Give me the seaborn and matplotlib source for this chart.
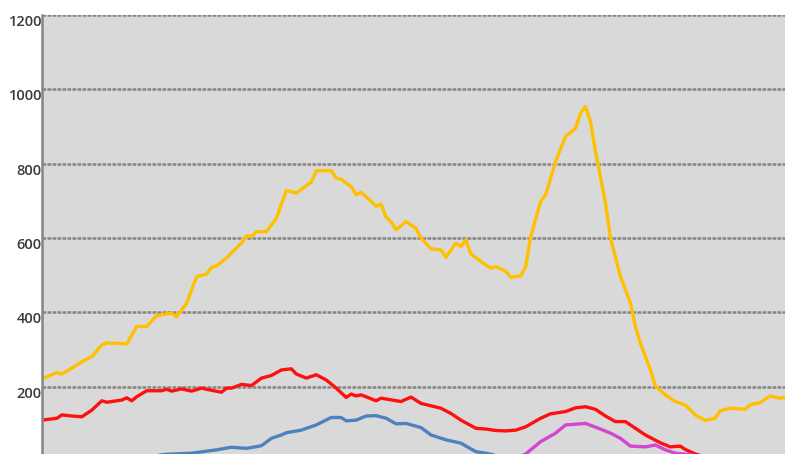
import pandas as pd
import numpy as np
import matplotlib
matplotlib.use("Agg")
import matplotlib.pyplot as plt
import seaborn as sns

# values (x = day index, y = count)
gold_days = [0, 3, 4, 6, 8, 10, 12, 13, 17, 19, 21, 23, 26, 27, 29, 31, 33, 34, 35, 37,
             39, 40, 41, 42, 43, 45, 47, 49, 51, 52, 54, 55, 58, 59, 60, 62, 63, 64, 67, 68,
             69, 70, 71, 73, 75, 76, 78, 80, 81, 83, 84, 85, 86, 88, 90, 91, 93, 94, 96, 97,
             98, 100, 101, 103, 105, 107, 108, 109, 110, 111, 113, 114, 116, 118, 119, 120, 122, 123, 125, 127,
             129, 131, 133, 135, 136, 138, 141, 142, 144, 146, 148, 149]
gold_vals = [221, 238, 234, 250, 267, 281, 312, 318, 315, 362, 362, 391, 398, 388, 424, 496, 503, 521, 525, 546,
             573, 586, 606, 604, 617, 617, 653, 728, 721, 731, 750, 781, 781, 761, 758, 738, 716, 723, 686, 691,
             656, 644, 622, 644, 626, 600, 571, 568, 548, 586, 577, 595, 557, 537, 519, 523, 511, 494, 498, 523,
             604, 698, 716, 806, 873, 895, 936, 954, 913, 833, 694, 600, 496, 425, 362, 317, 245, 202, 178, 160,
             151, 124, 109, 115, 135, 142, 139, 151, 157, 175, 169, 171]

red_days = [0, 3, 4, 6, 8, 10, 12, 13, 16, 17, 18, 19, 21, 24, 25, 26, 28, 30, 32, 33,
            36, 37, 38, 40, 42, 44, 46, 48, 50, 51, 53, 55, 57, 59, 61, 62, 63, 64, 67, 68,
            72, 74, 76, 80, 82, 84, 87, 89, 91, 93, 95, 97, 100, 102, 105, 107, 109, 111, 113, 115,
            117, 118, 121, 124, 126, 128, 129, 131, 134, 138, 149]
red_vals = [110, 115, 124, 121, 119, 137, 162, 158, 164, 170, 162, 173, 189, 189, 193, 188, 194, 188, 196, 193,
            185, 196, 196, 206, 203, 223, 230, 245, 248, 234, 223, 232, 218, 196, 171, 180, 175, 178, 162, 169,
            160, 172, 155, 142, 128, 110, 88, 86, 82, 81, 83, 92, 115, 127, 133, 143, 146, 139, 121, 106,
            106, 97, 70, 49, 38, 40, 31, 19, 8, 3, 2]

blue_days = [0, 8, 16, 22, 25, 30, 35, 38, 41, 44, 46, 48, 49, 52, 55, 58, 60, 61, 63, 65,
             67, 69, 71, 73, 76, 78, 81, 84, 87, 89, 92, 98, 112, 132, 149]
blue_vals = [8, 10, 12, 14, 18, 21, 30, 37, 34, 41, 61, 70, 76, 83, 97, 117, 117, 108, 110, 121,
             122, 115, 100, 101, 90, 70, 57, 48, 25, 21, 12, 6, 4, 5, 5]

pink_days = [90, 95, 97, 100, 103, 105, 108, 109, 111, 114, 116, 118, 121, 123, 125, 127, 132, 140, 149]
pink_vals = [2, 8, 19, 52, 75, 97, 100, 101, 91, 75, 61, 40, 38, 43, 30, 21, 14, 14, 15]

y_ticks = [200, 400, 600, 800, 1000, 1200]

frames = []
for name, d, v in [("gold", gold_days, gold_vals), ("red", red_days, red_vals),
                   ("blue", blue_days, blue_vals), ("pink", pink_days, pink_vals)]:
    frames.append(pd.DataFrame({"day": d, "value": v, "series": name}))
df = pd.concat(frames, ignore_index=True)

palette = {"gold": "#FFC000", "red": "#FF1010", "blue": "#4F81BD", "pink": "#D446CF"}

sns.set_style("white")
plt.rcParams["font.family"] = ["Open Sans", "DejaVu Sans"]

fig = plt.figure(figsize=(7.85, 4.54), dpi=100)
ax = fig.add_axes([0.0535, -0.0154, 0.9465, 0.9824])
ax.set_facecolor("#D9D9D9")

sns.lineplot(data=df, x="day", y="value", hue="series", palette=palette,
             hue_order=["gold", "red", "blue", "pink"], linewidth=2.4,
             legend=False, ax=ax)

ax.set_xlim(0, 149)
ax.set_ylim(0, 1200)
ax.set_yticks(y_ticks)
ax.set_xticks([])
ax.set_xlabel("")
ax.set_ylabel("")
for y in y_ticks:
    ax.axhline(y, color="#858585", linewidth=1.8, linestyle=(0, (1.5, 0.5)), zorder=1)

for s in ["top", "right", "bottom"]:
    ax.spines[s].set_visible(False)
ax.spines["left"].set_color("#858585")
ax.spines["left"].set_linewidth(1.8)

ax.tick_params(axis="y", length=0, pad=0, labelsize=10.5, labelcolor="#3a3a3a")
for lbl in ax.get_yticklabels():
    lbl.set_verticalalignment("top")
    lbl.set_fontweight("semibold")

fig.savefig("out.png", dpi=100)
